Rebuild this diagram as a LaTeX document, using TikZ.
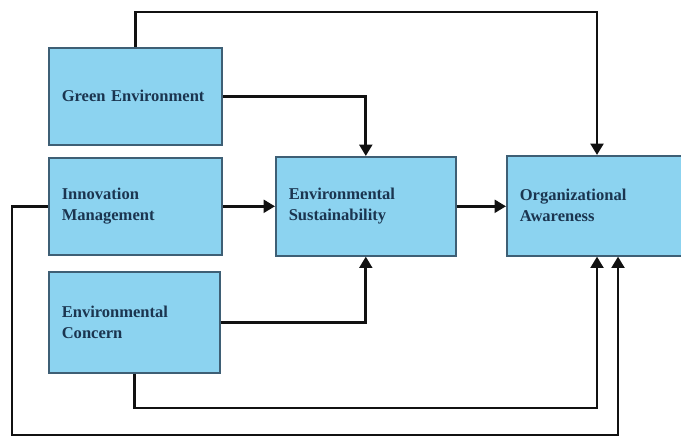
\documentclass[tikz,border=0pt]{standalone}
\usepackage{fontspec}
\setmainfont{Liberation Serif}
\usetikzlibrary{arrows.meta,calc}
\definecolor{boxfill}{HTML}{8CD3F0}
\definecolor{boxline}{HTML}{3E5F75}
\definecolor{boxtext}{HTML}{1B3550}
\definecolor{arrline}{HTML}{111111}
\tikzset{
  box/.style={draw=boxline, line width=1.2pt, fill=boxfill, rectangle, anchor=north west,
    inner xsep=9.75pt, inner ysep=0pt, align=left, text=boxtext,
    font=\bfseries\fontsize{12.4pt}{15.75pt}\selectfont},
  arr/.style={draw=arrline, line width=2.2pt, line join=miter,
    -{Triangle[length=8.5pt,width=9.5pt]}}
}
\begin{document}
\begin{tikzpicture}[x=0.75pt,y=-0.75pt]
\useasboundingbox (0,0) rectangle (681,438);
\fill[white] (0,0) rectangle (681,438);
\node[box, minimum width=129.75pt, minimum height=72.75pt, text width=110.25pt] (ge) at (48,47) {Green Environment};
\node[box, minimum width=129.75pt, minimum height=72.75pt, text width=110.25pt] (im) at (48,157) {Innovation\\Management};
\node[box, minimum width=128.25pt, minimum height=75.75pt, text width=108.75pt] (ec) at (48,271) {Environmental\\Concern};
\node[box, minimum width=135pt, minimum height=74.25pt, text width=115.5pt] (es) at (275,156) {Environmental\\Sustainability};
\node[box, minimum width=138.75pt, minimum height=75pt, text width=119.25pt] (oa) at (506,155) {Organizational\\Awareness};
\draw[arr] (ge.north) |- (597,12) -- ($(oa.north west)+(91,0)$);
\draw[arr] (ge.east) -| (es.north);
\draw[arr] (im.east) -- (es.west);
\draw[arr] (es.east) -- (es.east -| oa.west);
\draw[arr] (im.west) -- ++(-36,0) |- (618,435) -- ($(oa.south west)+(112,0)$);
\draw[arr] (ec.east) -| (es.south);
\draw[arr] (ec.south) |- (597,408) -- ($(oa.south west)+(91,0)$);
\end{tikzpicture}
\end{document}
